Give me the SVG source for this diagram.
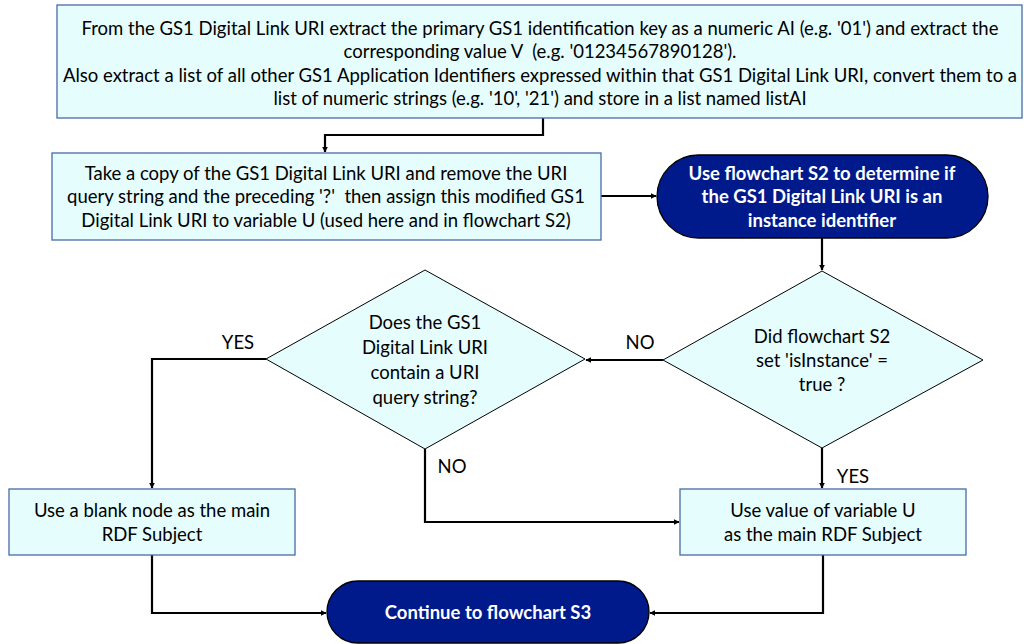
<svg xmlns="http://www.w3.org/2000/svg" width="1024" height="644" viewBox="0 0 1024 644">
<defs>
<marker id="ah" viewBox="0 0 10 10" refX="9" refY="5" markerWidth="6" markerHeight="6" markerUnits="userSpaceOnUse" orient="auto"><path d="M0,0 L10,5 L0,10 z" fill="#000"/></marker>
<style>
.box{fill:#e5fdfd;stroke:#4a6aa8;stroke-width:1.3}
.dia{fill:#e5fdfd;stroke:#000;stroke-width:1}
.term{fill:#001a8c;stroke:#000;stroke-width:1.3}
.t{font-family:Lato,"Liberation Sans",sans-serif;font-size:18.5px;fill:#000;text-anchor:middle;white-space:pre}
.w{font-family:Lato,"Liberation Sans",sans-serif;font-size:18.5px;font-weight:bold;fill:#fff;text-anchor:middle}
.c{fill:none;stroke:#000;stroke-width:2.2;marker-end:url(#ah)}
</style>
</defs>
<rect width="1024" height="644" fill="#fff"/>
<g id="connectors">
<path class="c" d="M543,118 V135 H325 V152"/>
<path class="c" d="M601,196 H656"/>
<path class="c" d="M822,238 V270"/>
<path class="c" d="M663,360 H586"/>
<path class="c" d="M266,359 H152 V488"/>
<path class="c" d="M425,449 V522 H679"/>
<path class="c" d="M822,448 V488"/>
<path class="c" d="M152,555 V613 H326"/>
<path class="c" d="M823,555 V613 H650"/>
<text class="t" x="640" y="349">NO</text>
<text class="t" x="238" y="349">YES</text>
<text class="t" x="452" y="473">NO</text>
<text class="t" x="853" y="483">YES</text>
</g>
<g id="n1">
<rect class="box" x="57" y="5" width="965" height="113"/>
<text class="t" x="540" y="35">From the GS1 Digital Link URI extract the primary GS1 identification key as a numeric AI (e.g. '01') and extract the</text>
<text class="t" x="540" y="58" xml:space="preserve">corresponding value V  (e.g. '01234567890128').</text>
<text class="t" x="540" y="82">Also extract a list of all other GS1 Application Identifiers expressed within that GS1 Digital Link URI, convert them to a</text>
<text class="t" x="540" y="105">list of numeric strings (e.g. '10', '21') and store in a list named listAI</text>
</g>
<g id="n2">
<rect class="box" x="52" y="153" width="549" height="87"/>
<text class="t" x="326" y="180">Take a copy of the GS1 Digital Link URI and remove the URI</text>
<text class="t" x="326" y="203" xml:space="preserve">query string and the preceding '?'  then assign this modified GS1</text>
<text class="t" x="326" y="227">Digital Link URI to variable U (used here and in flowchart S2)</text>
</g>
<g id="n3">
<rect class="term" x="657" y="155" width="331" height="83" rx="41.5"/>
<text class="w" x="822" y="180">Use flowchart S2 to determine if</text>
<text class="w" x="822" y="203">the GS1 Digital Link URI is an</text>
<text class="w" x="822" y="227">instance identifier</text>
</g>
<g id="n4">
<polygon class="dia" points="822,271 983,360 822,448 663,360"/>
<text class="t" x="822" y="343">Did flowchart S2</text>
<text class="t" x="822" y="367">set 'isInstance' =</text>
<text class="t" x="822" y="391">true ?</text>
</g>
<g id="n5">
<polygon class="dia" points="425,270 585,359 425,449 266,359"/>
<text class="t" x="425" y="329">Does the GS1</text>
<text class="t" x="425" y="354">Digital Link URI</text>
<text class="t" x="425" y="379">contain a URI</text>
<text class="t" x="425" y="404">query string?</text>
</g>
<g id="n6">
<rect class="box" x="9" y="489" width="286" height="66"/>
<text class="t" x="152" y="517">Use a blank node as the main</text>
<text class="t" x="152" y="541">RDF Subject</text>
</g>
<g id="n7">
<rect class="box" x="680" y="489" width="286" height="66"/>
<text class="t" x="823" y="517">Use value of variable U</text>
<text class="t" x="823" y="541">as the main RDF Subject</text>
</g>
<g id="n8">
<rect class="term" x="327" y="581" width="322" height="62" rx="31"/>
<text class="w" x="488" y="619">Continue to flowchart S3</text>
</g>
</svg>
